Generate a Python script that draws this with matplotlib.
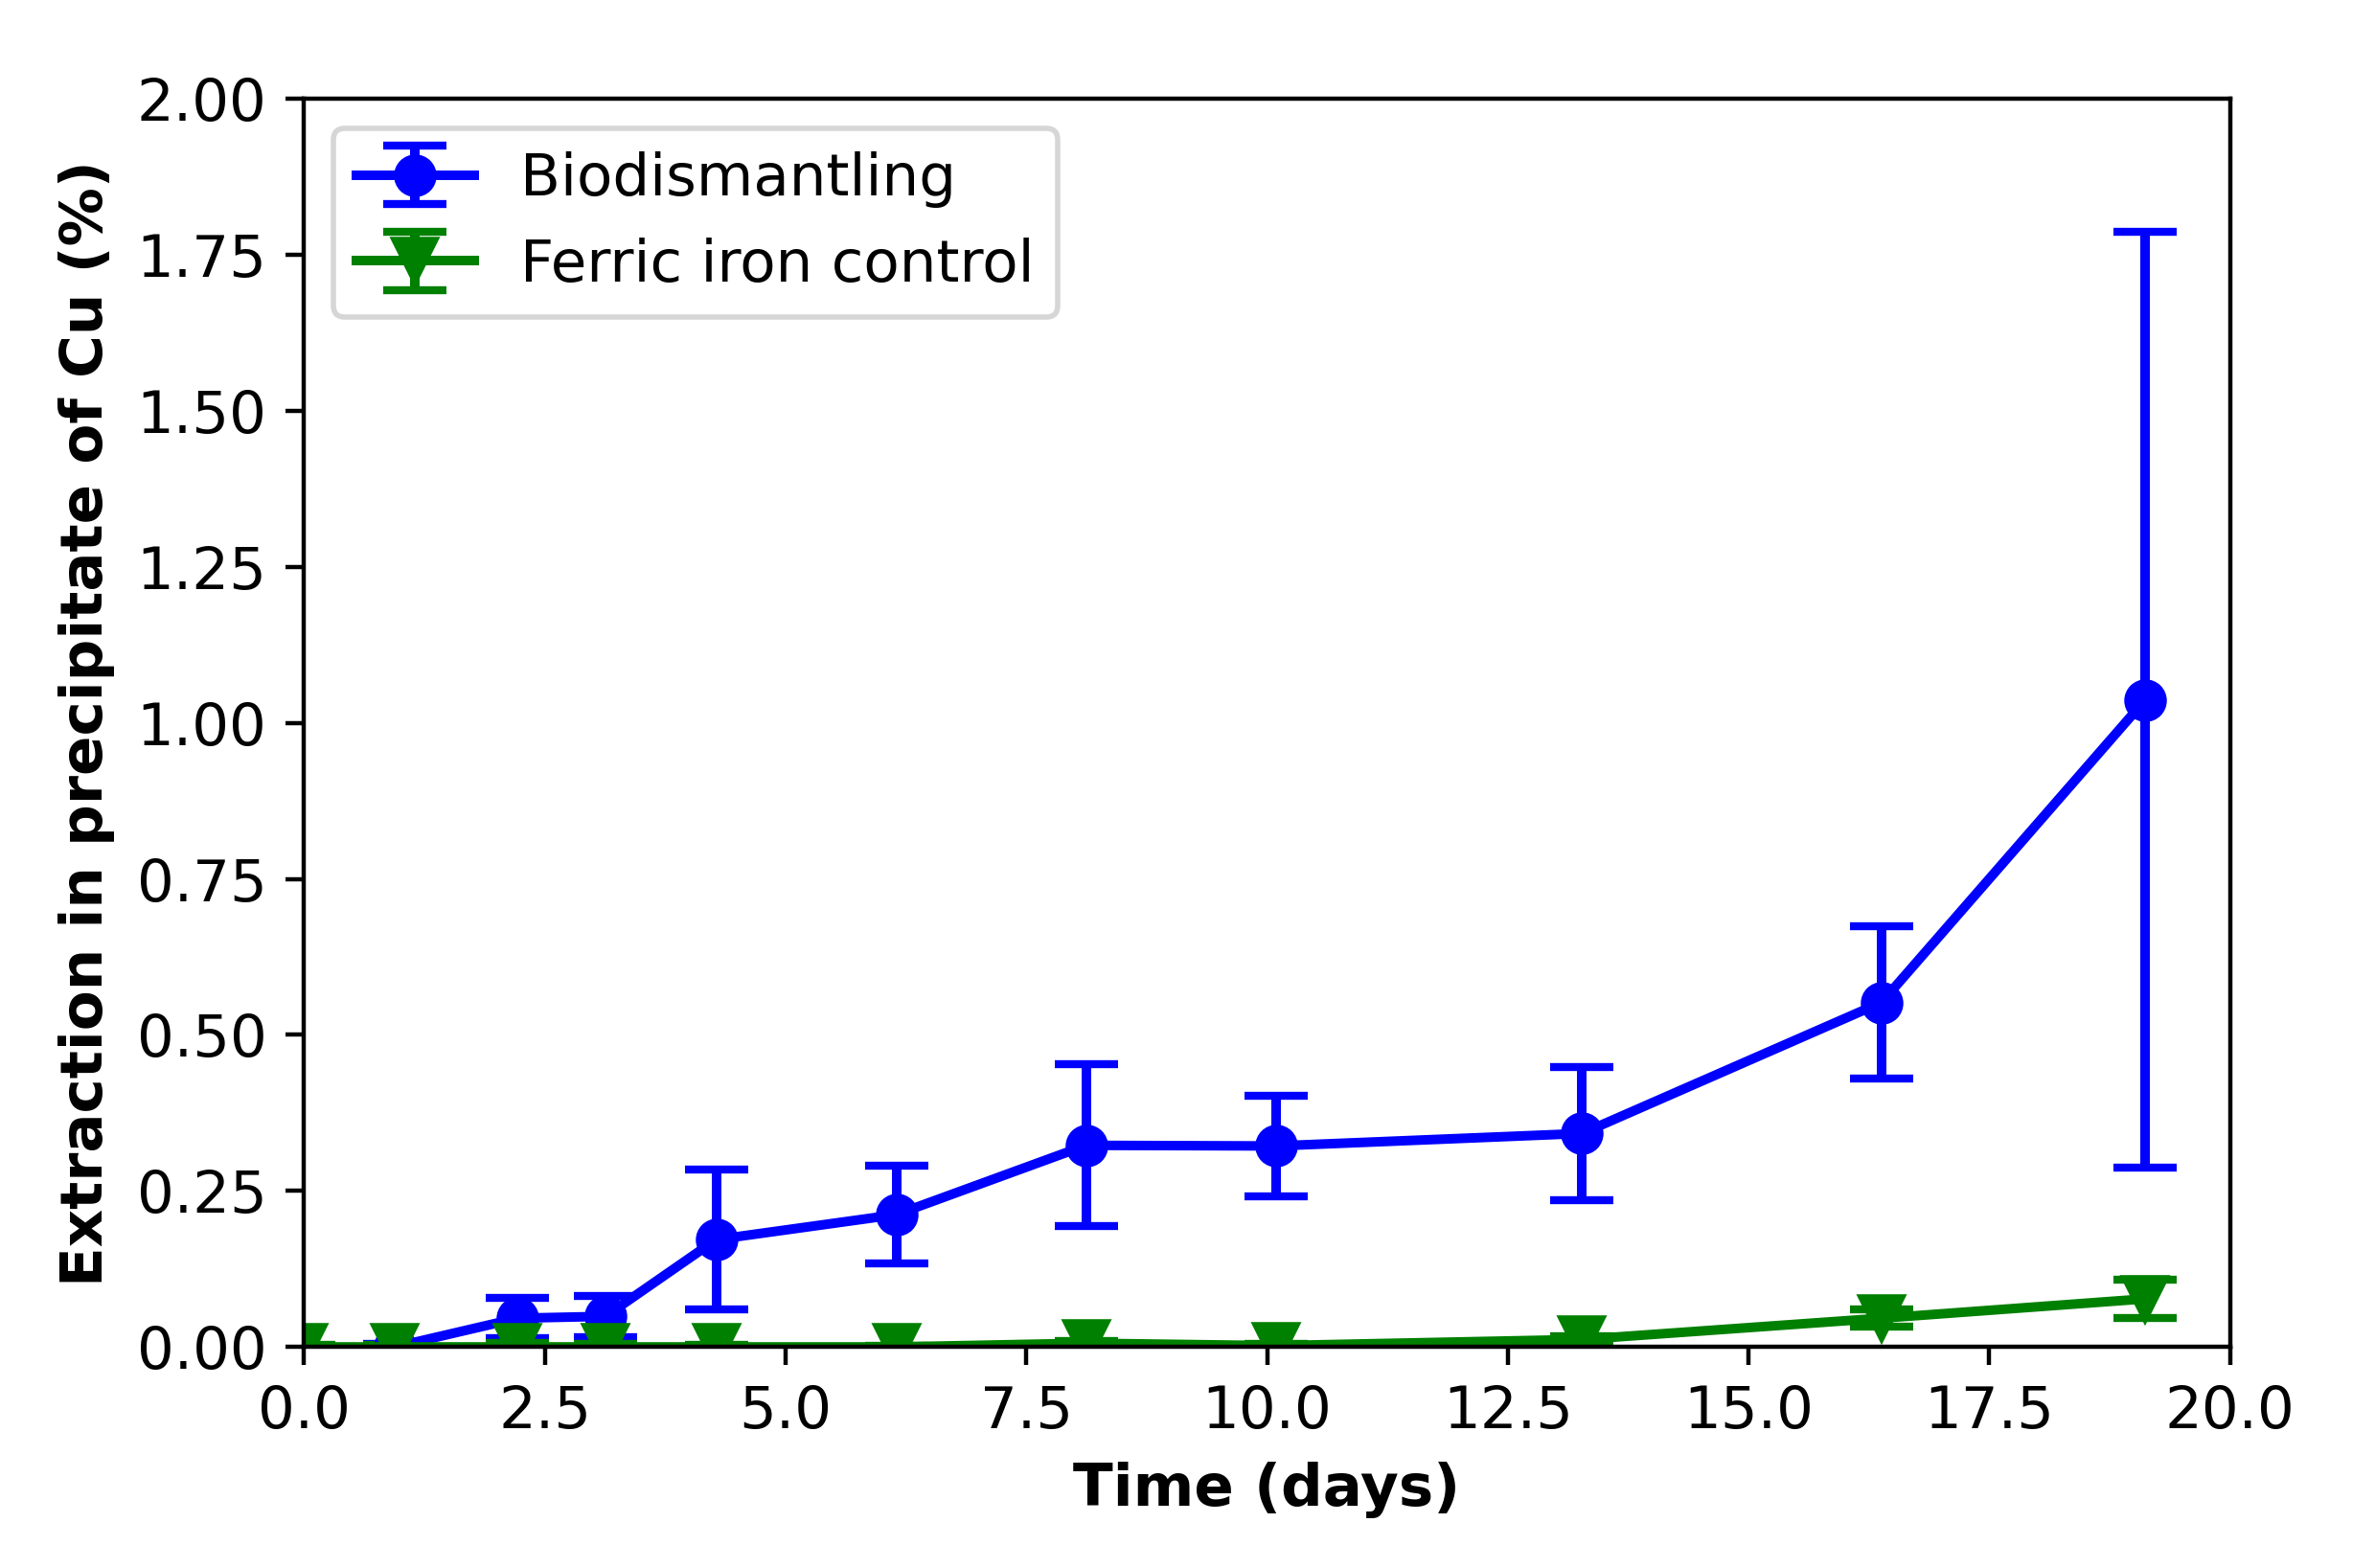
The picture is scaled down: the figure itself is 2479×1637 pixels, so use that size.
import matplotlib
matplotlib.use("Agg")
import matplotlib.pyplot as plt
import numpy as np

# time points (days)
days = [0.0, 0.94, 2.22, 3.13, 4.28, 6.15, 8.12, 10.09, 13.27, 16.38, 19.12]

bio_days = days[1:]
bio = [0.0, 0.046, 0.049, 0.172, 0.212, 0.323, 0.322, 0.342, 0.552, 1.037]
bio_err = [0.005, 0.032, 0.033, 0.112, 0.078, 0.13, 0.08, 0.107, 0.122, 0.75]

ferric = [0.0, 0.0, 0.0, 0.0, 0.0, 0.0, 0.006, 0.002, 0.012, 0.046, 0.077]
ferric_err = [0.004, 0.004, 0.006, 0.005, 0.003, 0.002, 0.004, 0.003, 0.005, 0.014, 0.03]

fig = plt.figure(figsize=(2479 / 400, 1637 / 400), dpi=400)
ax = fig.add_axes([0.128, 0.141, 0.811, 0.796])

ax.errorbar(bio_days, bio, yerr=bio_err, color="blue", marker="o", markersize=7,
            linewidth=1.8, capsize=6, capthick=1.5, elinewidth=1.8, label="Biodismantling")
ax.errorbar(days, ferric, yerr=ferric_err, color="green", marker="v", markersize=8,
            linewidth=1.8, capsize=6, capthick=1.5, elinewidth=1.8, label="Ferric iron control")

ax.set_xlim(0, 20)
ax.set_ylim(0, 2.0)
ax.set_xticks(np.arange(0, 20.01, 2.5))
ax.set_yticks(np.arange(0, 2.01, 0.25))
ax.set_xticklabels(["%.1f" % v for v in np.arange(0, 20.01, 2.5)])
ax.set_yticklabels(["%.2f" % v for v in np.arange(0, 2.01, 0.25)])
ax.tick_params(labelsize=11)
ax.set_xlabel("Time (days)", fontsize=11, fontweight="bold")
ax.set_ylabel("Extraction in precipitate of Cu (%)", fontsize=11, fontweight="bold")
ax.legend(loc="upper left", fontsize=11)

fig.savefig("out.png", dpi=400)
